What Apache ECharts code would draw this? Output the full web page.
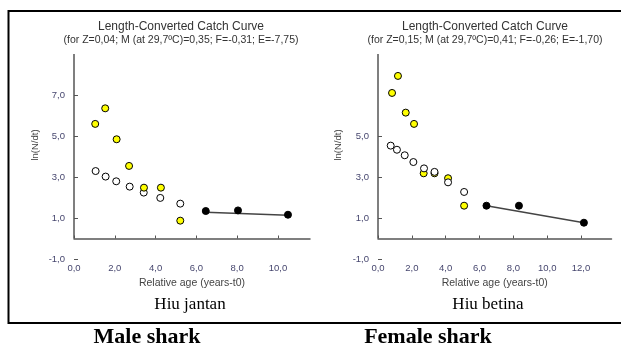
<!DOCTYPE html>
<html>
<head>
<meta charset="utf-8">
<script src="https://cdn.jsdelivr.net/npm/echarts@6/dist/echarts.min.js"></script>
<style>
html,body{margin:0;padding:0;background:#fff;}
#c{width:621px;height:348px;}
</style>
</head>
<body>
<div id="c"></div>
<script>
// ---- data ----
var maleYellowX = [1.04, 1.53, 2.09, 2.70, 3.43, 4.26, 5.21];
var maleYellowY = [5.59, 6.35, 4.84, 3.54, 2.48, 2.48, 0.87];
var maleOpenX   = [1.06, 1.55, 2.07, 2.73, 3.42, 4.23, 5.21];
var maleOpenY   = [3.29, 3.02, 2.79, 2.53, 2.24, 1.98, 1.70];
var maleFitX    = [6.46, 8.04, 10.49];
var maleFitY    = [1.34, 1.37, 1.16];
var maleLineX   = [6.46, 10.49];
var maleLineY   = [1.28, 1.13];

var femaleYellowX = [0.83, 1.18, 1.64, 2.13, 2.70, 3.34, 4.14, 5.09];
var femaleYellowY = [7.10, 7.93, 6.14, 5.59, 3.18, 3.18, 2.94, 1.60];
var femaleOpenX   = [0.75, 1.12, 1.58, 2.09, 2.72, 3.34, 4.14, 5.09];
var femaleOpenY   = [4.53, 4.33, 4.06, 3.73, 3.42, 3.25, 2.74, 2.27];
var femaleFitX    = [6.41, 8.33, 12.17];
var femaleFitY    = [1.60, 1.60, 0.77];
var femaleLineX   = [6.41, 12.17];
var femaleLineY   = [1.60, 0.77];

var maleYTicks = [-1, 1, 3, 5, 7];
var femaleYTicks = [-1, 1, 3, 5];
var maleXTicks = [0, 2, 4, 6, 8, 10];
var femaleXTicks = [0, 2, 4, 6, 8, 10, 12];

var titleText = 'Length-Converted Catch Curve';
var maleSub = '(for Z=0,04; M (at 29,7\u00baC)=0,35; F=-0,31; E=-7,75)';
var femaleSub = '(for Z=0,15; M (at 29,7\u00baC)=0,41; F=-0,26; E=-1,70)';
var yName = 'ln(N/dt)';
var xName = 'Relative age (years-t0)';
var maleCaption = 'Hiu jantan', femaleCaption = 'Hiu betina';
var maleLabel = 'Male shark', femaleLabel = 'Female shark';

function zip(a, b) { return a.map(function (v, i) { return [v, b[i]]; }); }
function fmt(v) { return v.toFixed(1).replace('.', ','); }

var labelColor = '#46466e';
var axisColor = '#555';
var font = 'Arial, "Liberation Sans", sans-serif';
var serif = '"Liberation Serif", "Times New Roman", serif';

function xAxis(idx, max, ticks) {
  return {
    type: 'value', gridIndex: idx, min: 0, max: max,
    name: xName, nameLocation: 'middle', nameGap: 19,
    nameTextStyle: { color: '#444', fontSize: 10.5, fontFamily: font },
    axisLine: { onZero: true, lineStyle: { color: axisColor, width: 1.5 } },
    axisTick: { show: true, inside: true, length: 3, customValues: ticks, lineStyle: { color: axisColor } },
    axisLabel: { customValues: ticks, formatter: fmt, color: labelColor, fontSize: 9.5, fontFamily: font, margin: 4 },
    splitLine: { show: false }
  };
}
function yAxis(idx, ticks) {
  return {
    type: 'value', gridIndex: idx, min: -1, max: 9,
    axisLine: { show: false },
    axisTick: { show: true, inside: true, length: 4, customValues: ticks, lineStyle: { color: axisColor } },
    axisLabel: { customValues: ticks, formatter: fmt, color: labelColor, fontSize: 9.5, fontFamily: font, margin: 9 },
    splitLine: { show: false }
  };
}
function pts(idx, x, y, fill, z) {
  return {
    type: 'scatter', xAxisIndex: idx, yAxisIndex: idx, data: zip(x, y),
    symbol: 'circle', symbolSize: 7, z: z,
    itemStyle: { color: fill, borderColor: '#000', borderWidth: 1, opacity: 1 },
    silent: true
  };
}
function fitLine(idx, x, y) {
  return {
    type: 'line', xAxisIndex: idx, yAxisIndex: idx, data: zip(x, y),
    symbol: 'none', z: 2,
    lineStyle: { color: '#444', width: 1.5 },
    markLine: {
      silent: true, symbol: 'none', label: { show: false },
      lineStyle: { color: axisColor, width: 1.5, type: 'solid' },
      data: [[{ coord: [0, 0] }, { coord: [0, 9] }]]
    }
  };
}

var chart = echarts.init(document.getElementById('c'), null, { renderer: 'canvas' });
chart.setOption({
  animation: false,
  backgroundColor: '#fff',
  title: [
    { text: titleText, subtext: maleSub, left: 176, top: 16, textAlign: 'center', itemGap: 2,
      textStyle: { fontSize: 12, fontWeight: 'normal', color: '#333', fontFamily: font },
      subtextStyle: { fontSize: 10.5, color: '#333', fontFamily: font } },
    { text: titleText, subtext: femaleSub, left: 480, top: 16, textAlign: 'center', itemGap: 2,
      textStyle: { fontSize: 12, fontWeight: 'normal', color: '#333', fontFamily: font },
      subtextStyle: { fontSize: 10.5, color: '#333', fontFamily: font } }
  ],
  grid: [
    { left: 74, width: 236, top: 54, bottom: 89 },
    { left: 378, width: 233.5, top: 54, bottom: 89 }
  ],
  xAxis: [xAxis(0, 11.57, maleXTicks), xAxis(1, 13.8, femaleXTicks)],
  yAxis: [yAxis(0, maleYTicks), yAxis(1, femaleYTicks)],
  series: [
    fitLine(0, maleLineX, maleLineY),
    pts(0, maleOpenX, maleOpenY, '#fff', 3),
    pts(0, maleYellowX, maleYellowY, '#ffff00', 4),
    pts(0, maleFitX, maleFitY, '#000', 5),
    fitLine(1, femaleLineX, femaleLineY),
    pts(1, femaleYellowX, femaleYellowY, '#ffff00', 3),
    pts(1, femaleOpenX, femaleOpenY, '#fff', 4),
    pts(1, femaleFitX, femaleFitY, '#000', 5)
  ],
  graphic: [
    { type: 'line', shape: { x1: 8, y1: 11, x2: 621, y2: 11 }, style: { stroke: '#000', lineWidth: 2 } },
    { type: 'line', shape: { x1: 8.5, y1: 10, x2: 8.5, y2: 324 }, style: { stroke: '#000', lineWidth: 2 } },
    { type: 'line', shape: { x1: 8, y1: 323, x2: 621, y2: 323 }, style: { stroke: '#000', lineWidth: 2 } },
    { type: 'text', x: 35, y: 145, rotation: Math.PI / 2,
      style: { text: yName, fill: '#444', fontSize: 9.5, fontFamily: font, align: 'center', verticalAlign: 'middle' } },
    { type: 'text', x: 338, y: 145, rotation: Math.PI / 2,
      style: { text: yName, fill: '#444', fontSize: 9.5, fontFamily: font, align: 'center', verticalAlign: 'middle' } },
    { type: 'text', x: 190, y: 305,
      style: { text: maleCaption, fill: '#000', fontSize: 17, fontFamily: serif, align: 'center', verticalAlign: 'middle' } },
    { type: 'text', x: 488, y: 305,
      style: { text: femaleCaption, fill: '#000', fontSize: 17, fontFamily: serif, align: 'center', verticalAlign: 'middle' } },
    { type: 'text', x: 147, y: 337,
      style: { text: maleLabel, fill: '#000', fontSize: 22, fontWeight: 'bold', fontFamily: serif, align: 'center', verticalAlign: 'middle' } },
    { type: 'text', x: 428, y: 337,
      style: { text: femaleLabel, fill: '#000', fontSize: 22, fontWeight: 'bold', fontFamily: serif, align: 'center', verticalAlign: 'middle' } }
  ]
});
</script>
</body>
</html>
